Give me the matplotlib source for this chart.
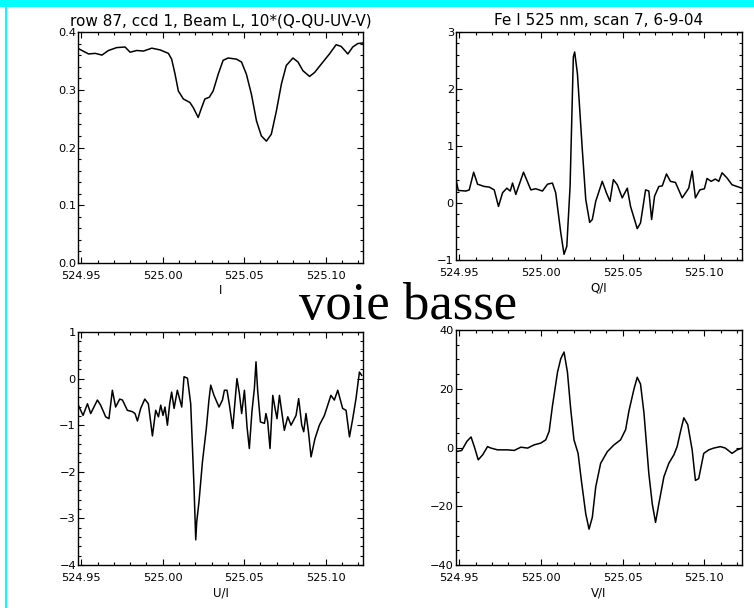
import matplotlib
matplotlib.use("Agg")
import matplotlib.pyplot as plt
from matplotlib.patches import Rectangle
from matplotlib.ticker import MultipleLocator, FormatStrFormatter, FuncFormatter

# wavelength axis ticks [nm]
xticks = [524.95, 525.00, 525.05, 525.10]
xlim = (524.948, 525.123)

# Stokes I
wl_I = [524.9484, 524.9545, 524.9586, 524.9627, 524.9667, 524.9718, 524.9769, 524.9800, 524.9841, 524.9882,
        524.9933, 524.9984, 525.0035, 525.0055, 525.0076, 525.0096, 525.0127, 525.0167, 525.0188, 525.0218,
        525.0239, 525.0259, 525.0286, 525.0310, 525.0341, 525.0371, 525.0402, 525.0453, 525.0484, 525.0514,
        525.0545, 525.0576, 525.0606, 525.0637, 525.0667, 525.0698, 525.0729, 525.0759, 525.0800, 525.0831,
        525.0861, 525.0902, 525.0933, 525.0984, 525.1024, 525.1065, 525.1096, 525.1137, 525.1167, 525.1198,
        525.1229]
I_vals = [0.371, 0.362, 0.363, 0.360, 0.368, 0.373, 0.374, 0.365, 0.368, 0.367,
          0.372, 0.369, 0.363, 0.353, 0.327, 0.298, 0.284, 0.278, 0.269, 0.252,
          0.269, 0.284, 0.287, 0.298, 0.327, 0.351, 0.355, 0.353, 0.348, 0.327,
          0.292, 0.246, 0.220, 0.211, 0.223, 0.263, 0.310, 0.342, 0.355, 0.348,
          0.333, 0.323, 0.330, 0.348, 0.362, 0.378, 0.375, 0.362, 0.374, 0.380,
          0.381]

# Q/I
wl_Q = [524.9480, 524.9494, 524.9541, 524.9561, 524.9588, 524.9612, 524.9653, 524.9683, 524.9714, 524.9740,
        524.9765, 524.9791, 524.9812, 524.9826, 524.9846, 524.9893, 524.9938, 524.9968, 525.0009, 525.0040,
        525.0070, 525.0090, 525.0121, 525.0141, 525.0158, 525.0178, 525.0198, 525.0206, 525.0223, 525.0253,
        525.0274, 525.0298, 525.0314, 525.0335, 525.0375, 525.0400, 525.0422, 525.0443, 525.0467, 525.0497,
        525.0528, 525.0548, 525.0589, 525.0609, 525.0640, 525.0660, 525.0677, 525.0695, 525.0721, 525.0742,
        525.0768, 525.0792, 525.0823, 525.0864, 525.0904, 525.0925, 525.0945, 525.0972, 525.1000, 525.1016,
        525.1041, 525.1067, 525.1088, 525.1108, 525.1138, 525.1169, 525.1199, 525.1230]
Q_vals = [0.41, 0.22, 0.21, 0.23, 0.54, 0.33, 0.29, 0.28, 0.23, -0.06,
          0.18, 0.26, 0.21, 0.35, 0.15, 0.54, 0.23, 0.25, 0.21, 0.33,
          0.35, 0.18, -0.52, -0.90, -0.76, 0.29, 2.56, 2.65, 2.27, 0.93,
          0.06, -0.34, -0.29, 0.03, 0.38, 0.18, 0.03, 0.41, 0.32, 0.09,
          0.26, -0.06, -0.45, -0.35, 0.23, 0.21, -0.29, 0.12, 0.29, 0.30,
          0.51, 0.38, 0.36, 0.09, 0.26, 0.56, 0.09, 0.23, 0.25, 0.43,
          0.38, 0.42, 0.38, 0.53, 0.44, 0.32, 0.29, 0.26]

# U/I
wl_U = [524.9482, 524.9511, 524.9538, 524.9558, 524.9599, 524.9619, 524.9650, 524.9670, 524.9691, 524.9711,
        524.9736, 524.9753, 524.9783, 524.9814, 524.9830, 524.9845, 524.9865, 524.9890, 524.9912, 524.9937,
        524.9957, 524.9974, 524.9988, 525.0002, 525.0014, 525.0029, 525.0043, 525.0055, 525.0070, 525.0090,
        525.0117, 525.0131, 525.0152, 525.0172, 525.0183, 525.0192, 525.0203, 525.0209, 525.0223, 525.0244,
        525.0268, 525.0284, 525.0295, 525.0315, 525.0346, 525.0367, 525.0379, 525.0395, 525.0410, 525.0430,
        525.0456, 525.0471, 525.0485, 525.0502, 525.0518, 525.0532, 525.0548, 525.0563, 525.0573, 525.0583,
        525.0600, 525.0625, 525.0634, 525.0645, 525.0659, 525.0676, 525.0690, 525.0702, 525.0717, 525.0731,
        525.0747, 525.0768, 525.0788, 525.0819, 525.0835, 525.0854, 525.0866, 525.0880, 525.0895, 525.0911,
        525.0935, 525.0962, 525.0993, 525.1033, 525.1054, 525.1075, 525.1105, 525.1126, 525.1147, 525.1167,
        525.1187, 525.1208, 525.1222]
U_vals = [-0.57, -0.79, -0.54, -0.75, -0.46, -0.57, -0.82, -0.86, -0.25, -0.61,
          -0.44, -0.46, -0.68, -0.71, -0.75, -0.91, -0.64, -0.44, -0.54, -1.23,
          -0.68, -0.82, -0.57, -0.79, -0.61, -1.00, -0.54, -0.29, -0.64, -0.25,
          -0.61, 0.04, 0.01, -0.54, -1.50, -2.29, -3.46, -3.07, -2.64, -1.79,
          -1.07, -0.46, -0.14, -0.36, -0.61, -0.46, -0.25, -0.25, -0.57, -1.07,
          0.00, -0.32, -0.75, -0.25, -1.04, -1.50, -0.71, -0.21, 0.36, -0.25,
          -0.93, -0.96, -0.75, -0.93, -1.50, -0.36, -0.64, -0.86, -0.36, -0.71,
          -1.11, -0.82, -1.00, -0.79, -0.43, -1.00, -1.14, -0.75, -1.14, -1.68,
          -1.29, -1.00, -0.79, -0.36, -0.46, -0.25, -0.64, -0.68, -1.25, -0.86,
          -0.43, 0.14, 0.07]

# V/I
wl_V = [524.9480, 524.9515, 524.9547, 524.9572, 524.9592, 524.9616, 524.9643, 524.9673, 524.9694, 524.9734,
        524.9795, 524.9836, 524.9877, 524.9918, 524.9958, 524.9999, 525.0029, 525.0050, 525.0070, 525.0101,
        525.0121, 525.0141, 525.0162, 525.0182, 525.0202, 525.0227, 525.0247, 525.0274, 525.0294, 525.0314,
        525.0335, 525.0365, 525.0406, 525.0447, 525.0487, 525.0518, 525.0538, 525.0569, 525.0589, 525.0609,
        525.0630, 525.0660, 525.0681, 525.0701, 525.0721, 525.0752, 525.0782, 525.0813, 525.0833, 525.0854,
        525.0874, 525.0898, 525.0925, 525.0945, 525.0965, 525.0996, 525.1027, 525.1057, 525.1098, 525.1128,
        525.1169, 525.1200, 525.1230]
V_vals = [-1.4, -1.0, 2.1, 3.6, 0.3, -4.2, -2.5, 0.3, -0.2, -0.8,
          -0.8, -1.0, 0.1, -0.2, 0.9, 1.5, 2.6, 5.5, 14.1, 25.6,
          30.2, 32.5, 25.6, 13.0, 2.6, -2.0, -11.2, -22.6, -27.8, -23.8,
          -13.4, -5.4, -1.4, 0.9, 2.6, 6.1, 12.4, 19.9, 23.9, 21.6,
          11.8, -8.9, -19.2, -25.5, -19.2, -10.0, -5.4, -2.5, 0.3, 5.5,
          10.1, 7.8, -0.8, -11.2, -10.6, -2.0, -0.8, -0.2, 0.3, -0.2,
          -2.0, -0.8, -0.2]

W, H = 754, 608
fig = plt.figure(figsize=(W / 100, H / 100), dpi=100)
fig.patch.set_facecolor("white")

# cyan slide border (top band + thin left line)
fig.patches.append(Rectangle((0, 1 - 7 / H), 1, 7 / H, transform=fig.transFigure,
                             facecolor="#00FFFF", edgecolor="none"))
fig.patches.append(Rectangle((5 / W, 0), 1.6 / W, 1, transform=fig.transFigure,
                             facecolor="#00FFFF", edgecolor="none"))


def px_axes(l, t, r, b):
    return fig.add_axes([l / W, 1 - b / H, (r - l) / W, (b - t) / H])


def minus_fmt(fmt):
    return FuncFormatter(lambda v, pos: (fmt % v).replace("-", "\u2212"))


def style(ax, ylim, ymaj, ymin, yfmt, xlabel):
    ax.set_xlim(*xlim)
    ax.set_ylim(*ylim)
    ax.set_xticks(xticks)
    ax.xaxis.set_major_formatter(FormatStrFormatter("%.2f"))
    ax.xaxis.set_minor_locator(MultipleLocator(0.01))
    ax.yaxis.set_major_locator(MultipleLocator(ymaj))
    ax.yaxis.set_minor_locator(MultipleLocator(ymin))
    ax.yaxis.set_major_formatter(minus_fmt(yfmt))
    ax.tick_params(which="both", direction="in", top=True, right=True, width=0.8,
                   labelsize=8.2, colors="black")
    ax.tick_params(which="major", length=4.5)
    ax.tick_params(which="minor", length=2.5)
    ax.tick_params(axis="x", pad=6)
    ax.tick_params(axis="y", pad=1.5)
    for s in ax.spines.values():
        s.set_linewidth(1.0)
    ax.set_xlabel(xlabel, fontsize=8.5, labelpad=2)


ax1 = px_axes(78, 32, 363, 263)
ax1.plot(wl_I, I_vals, color="black", lw=1.1)
style(ax1, (0.0, 0.4), 0.1, 0.02, "%.1f", "I")
ax1.set_title("row 87, ccd 1, Beam L, 10*(Q-QU-UV-V)", fontsize=11, pad=5)

ax2 = px_axes(456, 32, 742, 260)
ax2.plot(wl_Q, Q_vals, color="black", lw=1.1)
style(ax2, (-1, 3), 1, 0.2, "%d", "Q/I")
ax2.set_title("Fe I 525 nm, scan 7, 6-9-04", fontsize=11, pad=5)

ax3 = px_axes(78, 332, 363, 565)
ax3.plot(wl_U, U_vals, color="black", lw=1.1)
style(ax3, (-4, 1), 1, 0.2, "%d", "U/I")

ax4 = px_axes(456, 330, 742, 565)
ax4.plot(wl_V, V_vals, color="black", lw=1.1)
style(ax4, (-40, 40), 20, 5, "%d", "V/I")

fig.text(408 / W, 1 - 319 / H, "voie basse", family="Liberation Serif", fontsize=38,
         ha="center", va="baseline", color="black")

fig.savefig("out.png", dpi=100)
